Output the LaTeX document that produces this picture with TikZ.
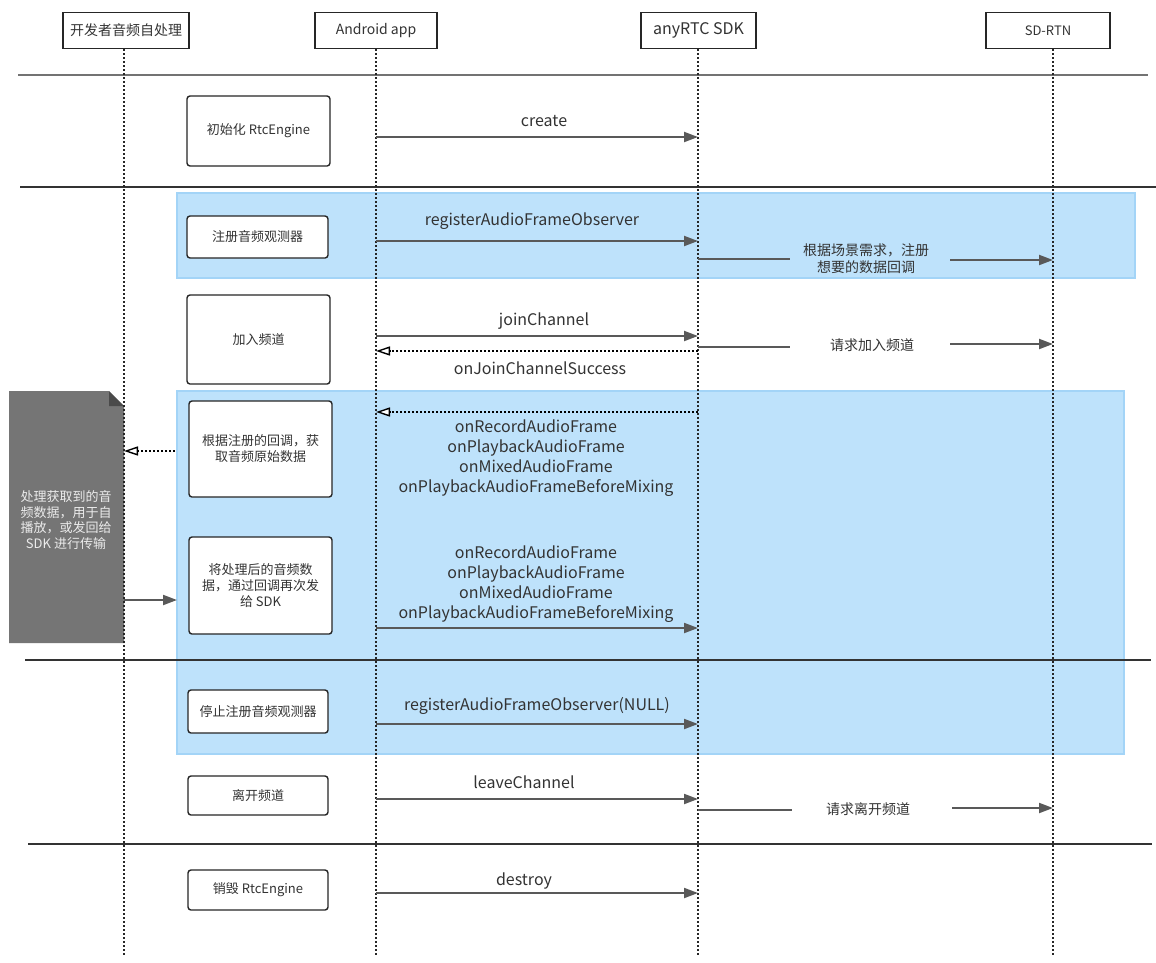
\documentclass[tikz,border=0pt]{standalone}
\usepackage{fontspec}
\setmainfont{Noto Sans CJK SC}
\usetikzlibrary{arrows.meta}
\definecolor{arrowgray}{HTML}{595959}
\definecolor{txt}{HTML}{333333}
\definecolor{bluefill}{HTML}{BEE2FB}
\definecolor{blueline}{HTML}{A3D4F7}
\definecolor{notegray}{HTML}{757575}
\definecolor{foldgray}{HTML}{4A4A4A}
\tikzset{
  hdr/.style={draw=black!85, line width=1.4pt, fill=white, minimum height=36pt, inner sep=0pt, text=txt},
  actbox/.style={draw=black!85, line width=1.4pt, fill=white, rounded corners=3pt, inner sep=0pt, text=txt, align=center, font=\fontsize{13}{16}\selectfont},
  life/.style={draw=black!85, line width=1.5pt, dash pattern=on 2pt off 2pt},
  msg/.style={draw=arrowgray, line width=2pt, -{Triangle[length=14pt,width=10pt]}},
  seg/.style={draw=arrowgray, line width=2pt},
  ret/.style={draw=black, line width=2pt, dash pattern=on 2pt off 2pt, -{Triangle[length=14pt,width=9pt,fill=white,line width=1.4pt]}},
  lbl/.style={text=txt, font=\fontsize{16}{20}\selectfont, align=center, inner sep=0pt},
  slbl/.style={text=txt, font=\fontsize{14}{17}\selectfont, align=center, inner sep=0pt},
  sep/.style={draw=black!80, line width=2.2pt},
  blue/.style={fill=bluefill, draw=blueline, line width=1.5pt}
}
\begin{document}
\begin{tikzpicture}[x=1pt,y=-1pt]
\useasboundingbox (0,0) rectangle (1156,962);
\fill[white] (0,0) rectangle (1156,962);

% blue groups
\draw[blue] (177,193) rectangle (1135,278);
\draw[blue] (177,391) rectangle (1124,754);

% note shape
\fill[notegray] (9,391) -- (109,391) -- (124,406) -- (124,643) -- (9,643) -- cycle;
\fill[foldgray] (109,391) -- (124,406) -- (109,406) -- cycle;
\node[text=white!92!black, font=\fontsize{13}{15.7}\selectfont, align=center, inner sep=0pt] (note) at (66,520)
  {处理获取到的音\\频数据，用于自\\播放，或发回给\\SDK 进行传输};

% separators
\draw[draw=black!55, line width=2pt] (18,75) -- (1148,75);
\draw[sep] (20,187) -- (1156,187);
\draw[sep] (25,660) -- (1151,660);
\draw[sep] (28,844) -- (1152,844);

% headers
\node[hdr, minimum width=126pt, font=\fontsize{14}{17}\selectfont] (h1) at (126,30.5) {开发者音频自处理};
\node[hdr, minimum width=122pt, font=\fontsize{14}{17}\selectfont] (h2) at (376,30.5) {Android app};
\node[hdr, minimum width=115pt, font=\fontsize{16}{19}\selectfont] (h3) at (698.5,30.5) {anyRTC SDK};
\node[hdr, minimum width=124pt, font=\fontsize{13}{16}\selectfont] (h4) at (1048,30.5) {SD-RTN};

% lifelines
\coordinate (L1) at (124,955);
\coordinate (L2) at (376,955);
\coordinate (L3) at (698,955);
\coordinate (L4) at (1053,955);
\draw[life] (L1 |- h1.south) -- (L1);
\draw[life] (L2 |- h2.south) -- (L2);
\draw[life] (L3 |- h3.south) -- (L3);
\draw[life] (L4 |- h4.south) -- (L4);

% activity boxes
\node[actbox, minimum width=143pt, minimum height=70pt] (b1) at (258.5,131) {初始化 RtcEngine};
\node[actbox, minimum width=141pt, minimum height=42pt] (b2) at (257.5,237) {注册音频观测器};
\node[actbox, minimum width=143pt, minimum height=89pt] (b3) at (258.5,339.5) {加入频道};
\node[actbox, minimum width=143pt, minimum height=96pt] (b4) at (260.5,449) {根据注册的回调，获\\取音频原始数据};
\node[actbox, minimum width=143pt, minimum height=97pt] (b5) at (260.5,585.5) {将处理后的音频数\\据，通过回调再次发\\给 SDK};
\node[actbox, minimum width=140pt, minimum height=43pt] (b6) at (258,711.5) {停止注册音频观测器};
\node[actbox, minimum width=140pt, minimum height=39pt] (b7) at (258,795.5) {离开频道};
\node[actbox, minimum width=140pt, minimum height=40pt] (b8) at (258,890) {销毁 RtcEngine};

% messages
\coordinate (m1a) at (376,137); \coordinate (m1b) at (698,137);
\draw[msg] (m1a) -- (m1b);
\node[lbl] (t1) at (544,121) {create};

\coordinate (m2a) at (376,241); \coordinate (m2b) at (698,241);
\draw[msg] (m2a) -- (m2b);
\node[lbl] (t2) at (532,221) {registerAudioFrameObserver};

\coordinate (m3a) at (698,259); \coordinate (m3b) at (790,259);
\coordinate (m3c) at (950,260); \coordinate (m3d) at (1053,260);
\draw[seg] (m3a) -- (m3b);
\draw[msg] (m3c) -- (m3d);
\node[slbl] (t3) at (866,259) {根据场景需求，注册\\想要的数据回调};

\coordinate (m4a) at (376,336); \coordinate (m4b) at (698,336);
\draw[msg] (m4a) -- (m4b);
\node[lbl] (t4) at (544,321) {joinChannel};

\coordinate (m5a) at (698,351); \coordinate (m5b) at (376,351);
\draw[ret] (m5a) -- (m5b);
\node[lbl] (t5) at (540,368) {onJoinChannelSuccess};

\coordinate (m6a) at (698,347); \coordinate (m6b) at (790,347);
\coordinate (m6c) at (950,344); \coordinate (m6d) at (1053,344);
\draw[seg] (m6a) -- (m6b);
\draw[msg] (m6c) -- (m6d);
\node[slbl] (t6) at (872,345) {请求加入频道};

\coordinate (m7a) at (698,412); \coordinate (m7b) at (376,412);
\draw[ret] (m7a) -- (m7b);
\node[lbl] (t7) at (536,458) {onRecordAudioFrame\\onPlaybackAudioFrame\\onMixedAudioFrame\\onPlaybackAudioFrameBeforeMixing};

\coordinate (m8a) at (175,451); \coordinate (m8b) at (124,451);
\draw[ret] (m8a) -- (m8b);

\coordinate (m9a) at (124,600); \coordinate (m9b) at (177,600);
\draw[msg] (m9a) -- (m9b);

\coordinate (m10a) at (376,628); \coordinate (m10b) at (698,628);
\draw[msg] (m10a) -- (m10b);
\node[lbl] (t10) at (536,584) {onRecordAudioFrame\\onPlaybackAudioFrame\\onMixedAudioFrame\\onPlaybackAudioFrameBeforeMixing};

\coordinate (m11a) at (376,724); \coordinate (m11b) at (698,724);
\draw[msg] (m11a) -- (m11b);
\node[lbl] (t11) at (537,706) {registerAudioFrameObserver(NULL)};

\coordinate (m12a) at (376,799); \coordinate (m12b) at (698,799);
\draw[msg] (m12a) -- (m12b);
\node[lbl] (t12) at (524,782) {leaveChannel};

\coordinate (m13a) at (698,810); \coordinate (m13b) at (792,810);
\coordinate (m13c) at (952,808); \coordinate (m13d) at (1053,808);
\draw[seg] (m13a) -- (m13b);
\draw[msg] (m13c) -- (m13d);
\node[slbl] (t13) at (868,809) {请求离开频道};

\coordinate (m14a) at (376,893); \coordinate (m14b) at (698,893);
\draw[msg] (m14a) -- (m14b);
\node[lbl] (t14) at (524,881) {destroy};
\end{tikzpicture}
\end{document}
